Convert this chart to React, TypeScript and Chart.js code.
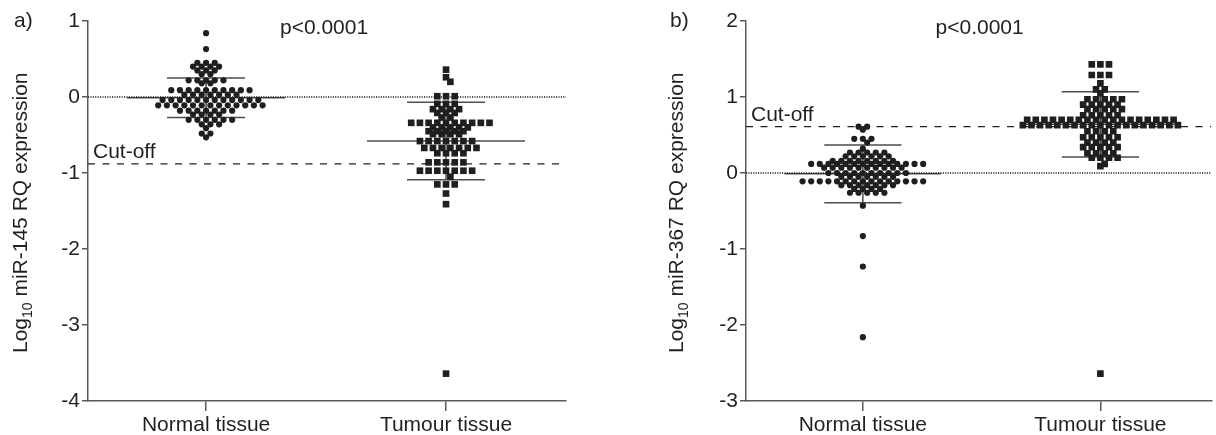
import React, { useEffect, useRef } from 'react';
import { Chart, registerables } from 'chart.js';

Chart.register(...registerables);

// ---------------- data ----------------
const categories = ['Normal tissue', 'Tumour tissue'];
const panelLetters = ['a)', 'b)'];
const pValueLabel = 'p<0.0001';
const cutoffLabel = 'Cut-off';
const yTitles = ['miR-145 RQ expression', 'miR-367 RQ expression'];
const yTicksA = [-4, -3, -2, -1, 0, 1];
const yTicksB = [-3, -2, -1, 0, 1, 2];

const normalA = [
  0.84,
  0.63,
  0.45, 0.45, 0.45,
  0.40, 0.40, 0.40, 0.40,
  0.35, 0.35, 0.35,
  0.30, 0.30,
  0.22, 0.22, 0.22, 0.22, 0.22,
  0.18, 0.18,
  0.09, 0.09, 0.09, 0.09, 0.09, 0.09, 0.09, 0.09, 0.09, 0.09,
  0.03, 0.03, 0.03, 0.03, 0.03, 0.03, 0.03,
  -0.04, -0.04, -0.04, -0.04, -0.04, -0.04, -0.04, -0.04, -0.04, -0.04, -0.04, -0.04,
  -0.11, -0.11, -0.11, -0.11, -0.11, -0.11, -0.11, -0.11, -0.11, -0.11, -0.11, -0.11, -0.11,
  -0.18, -0.18, -0.18, -0.18, -0.18, -0.18, -0.18,
  -0.23, -0.23, -0.23, -0.23,
  -0.30, -0.30, -0.30, -0.30, -0.30, -0.30,
  -0.36, -0.36, -0.36,
  -0.41,
  -0.48, -0.48,
  -0.53,
];

const tumourA = [
  0.36, 0.26, 0.20,
  0.01, 0.01, 0.01,
  -0.09, -0.09, -0.09,
  -0.16, -0.16, -0.16, -0.16,
  -0.21, -0.21, -0.21,
  -0.27, -0.27,
  -0.34, -0.34, -0.34, -0.34, -0.34, -0.34, -0.34, -0.34, -0.34, -0.34,
  -0.40, -0.40, -0.40, -0.40, -0.40,
  -0.45, -0.45, -0.45, -0.45, -0.45,
  -0.49, -0.49, -0.49, -0.49,
  -0.58, -0.58, -0.58, -0.58, -0.58, -0.58, -0.58,
  -0.67, -0.67, -0.67, -0.67, -0.67, -0.67, -0.67,
  -0.74, -0.74, -0.74, -0.74,
  -0.86, -0.86, -0.86, -0.86, -0.86,
  -0.97, -0.97, -0.97, -0.97, -0.97, -0.97, -0.97,
  -1.05,
  -1.15, -1.15, -1.15,
  -1.27,
  -1.41,
  -3.64,
];

const normalB = [
  0.61, 0.61,
  0.57,
  0.45, 0.45, 0.45,
  0.40,
  0.32,
  0.27, 0.27, 0.27, 0.27, 0.27,
  0.22, 0.22, 0.22, 0.22, 0.22, 0.22,
  0.16, 0.16, 0.16, 0.16, 0.16, 0.16, 0.16, 0.16,
  0.12, 0.12, 0.12, 0.12, 0.12, 0.12, 0.12, 0.12, 0.12, 0.12, 0.12, 0.12, 0.12, 0.12,
  0.07, 0.07, 0.07, 0.07, 0.07, 0.07, 0.07, 0.07, 0.07, 0.07,
  0.00, 0.00, 0.00, 0.00, 0.00, 0.00, 0.00, 0.00, 0.00, 0.00,
  -0.05, -0.05, -0.05, -0.05, -0.05, -0.05, -0.05,
  -0.11, -0.11, -0.11, -0.11, -0.11, -0.11, -0.11, -0.11, -0.11, -0.11, -0.11, -0.11, -0.11, -0.11, -0.11,
  -0.16, -0.16, -0.16, -0.16, -0.16, -0.16, -0.16,
  -0.21, -0.21, -0.21, -0.21,
  -0.26, -0.26, -0.26, -0.26, -0.26,
  -0.43,
  -0.83,
  -1.23,
  -2.16,
];

const tumourB = [
  1.43, 1.43, 1.43,
  1.29, 1.29, 1.29,
  1.18,
  1.10, 1.10,
  1.05,
  0.97, 0.97, 0.97, 0.97, 0.97,
  0.90, 0.90, 0.90, 0.90, 0.90,
  0.84, 0.84, 0.84, 0.84, 0.84,
  0.76, 0.76, 0.76, 0.76, 0.76,
  0.70, 0.70, 0.70, 0.70, 0.70, 0.70, 0.70, 0.70, 0.70, 0.70, 0.70, 0.70, 0.70, 0.70, 0.70, 0.70, 0.70, 0.70,
  0.63, 0.63, 0.63, 0.63, 0.63, 0.63, 0.63, 0.63, 0.63, 0.63, 0.63, 0.63, 0.63, 0.63, 0.63, 0.63, 0.63, 0.63, 0.63,
  0.55, 0.55, 0.55, 0.55,
  0.47, 0.47, 0.47, 0.47, 0.47,
  0.40, 0.40, 0.40, 0.40,
  0.34, 0.34, 0.34, 0.34, 0.34,
  0.26, 0.26, 0.26, 0.26,
  0.20, 0.20, 0.20, 0.20,
  0.12,
  0.09,
  -2.64,
];

const meansA = [-0.01, -0.58];
const sdsA = [0.26, 0.51];
const meansB = [-0.01, 0.64];
const sdsB = [0.38, 0.43];
const cutoffA = -0.88;
const cutoffB = 0.61;

// ---------------- style / layout ----------------
const FONT = "'Liberation Sans', Arial, Helvetica, sans-serif";
const TEXT = '#231f20';
const AXIS = '#58595b';
const BAR = '#4d4d4f';
const DOT = '#1f1f1f';
const CANVAS_W = 608;
const CANVAS_H = 435;
const DOT_SPACING_PX = 8.7;
const ROW_NEAR_PX = 7;
const MEAN_HALF_PX = 79;
const CAP_HALF_PX = 39;

type Panel = {
  letter: string;
  title: string;
  normal: number[];
  tumour: number[];
  means: number[];
  sds: number[];
  cutoff: number;
  yTicks: number[];
  axisWidth: number;
  rightPad: number;
  xMin: number;
  xMax: number;
  titleOffset: number;
  letterOffset: number;
};

const panels: Panel[] = [
  {
    letter: panelLetters[0], title: yTitles[0], normal: normalA, tumour: tumourA,
    means: meansA, sds: sdsA, cutoff: cutoffA, yTicks: yTicksA,
    axisWidth: 88, rightPad: 42, xMin: 0.508, xMax: 2.5, titleOffset: 61, letterOffset: 74,
  },
  {
    letter: panelLetters[1], title: yTitles[1], normal: normalB, tumour: tumourB,
    means: meansB, sds: sdsB, cutoff: cutoffB, yTicks: yTicksB,
    axisWidth: 138, rightPad: 0, xMin: 0.508, xMax: 2.467, titleOffset: 63, letterOffset: 76,
  },
];

// Row-wise swarm layout: identical values form a row spread around the category centre;
// rows lying close together are interleaved by half a column (hexagonal packing).
function swarm(values: number[], center: number, pxPerUnitX: number, pxPerUnitY: number) {
  const counts = new Map<number, number>();
  values.forEach((v) => counts.set(v, (counts.get(v) || 0) + 1));
  const rowVals = Array.from(counts.keys()).sort((a, b) => b - a);
  const base = new Map<number, number>();
  let prevVal = Infinity;
  let prevBase = 0;
  rowVals.forEach((v) => {
    const n = counts.get(v) as number;
    let b: number;
    if ((prevVal - v) * pxPerUnitY < ROW_NEAR_PX) b = prevBase === 0 ? 0.5 : 0;
    else b = n % 2 === 1 ? 0 : 0.5;
    base.set(v, b);
    prevVal = v;
    prevBase = b;
  });
  const seen = new Map<number, number>();
  return values.map((v) => {
    const i = seen.get(v) || 0;
    seen.set(v, i + 1);
    const b = base.get(v) as number;
    let col: number;
    if (b === 0) col = i === 0 ? 0 : (i % 2 === 1 ? (i + 1) / 2 : -i / 2);
    else col = i % 2 === 0 ? i / 2 + 0.5 : -((i - 1) / 2 + 0.5);
    return { x: center + (col * DOT_SPACING_PX) / pxPerUnitX, y: v };
  });
}

function seg(x1: number, y1: number, x2: number, y2: number, color: string, width: number, dash: number[] = []) {
  return {
    type: 'scatter' as const,
    data: [{ x: x1, y: y1 }, { x: x2, y: y2 }],
    showLine: true,
    borderColor: color,
    borderWidth: width,
    borderDash: dash,
    pointRadius: 0,
    pointHoverRadius: 0,
    order: 2,
  };
}

function buildConfig(p: Panel): any {
  const plotH = CANVAS_H - 21 - 34;
  const pxPerUnitX = (CANVAS_W - p.axisWidth - p.rightPad) / (p.xMax - p.xMin);
  const pxPerUnitY = plotH / (p.yTicks[p.yTicks.length - 1] - p.yTicks[0]);
  const meanHalf = MEAN_HALF_PX / pxPerUnitX;
  const capHalf = CAP_HALF_PX / pxPerUnitX;
  const datasets: any[] = [];
  datasets.push(seg(p.xMin, 0, p.xMax, 0, '#151515', 1.3, [1.1, 1.3]));
  datasets.push(seg(p.xMin, p.cutoff, p.xMax, p.cutoff, TEXT, 1.4, [7, 7.5]));
  p.means.forEach((m, i) => {
    const c = i + 1;
    const s = p.sds[i];
    datasets.push(seg(c - meanHalf, m, c + meanHalf, m, BAR, 1.5));
    datasets.push(seg(c - capHalf, m + s, c + capHalf, m + s, BAR, 1.5));
    datasets.push(seg(c - capHalf, m - s, c + capHalf, m - s, BAR, 1.5));
    datasets.push(seg(c, m - s, c, m + s, BAR, 1.5));
  });
  datasets.push({
    type: 'scatter',
    data: swarm(p.normal, 1, pxPerUnitX, pxPerUnitY),
    pointStyle: 'circle',
    pointRadius: 3.1,
    pointHoverRadius: 3.1,
    backgroundColor: DOT,
    borderWidth: 0,
    order: 0,
  });
  datasets.push({
    type: 'scatter',
    data: swarm(p.tumour, 2, pxPerUnitX, pxPerUnitY),
    pointStyle: 'rect',
    pointRadius: 4.7,
    pointHoverRadius: 4.7,
    backgroundColor: DOT,
    borderWidth: 0,
    order: 0,
  });

  const textPlugin = {
    id: 'panelText',
    afterDraw(chart: any) {
      const ctx = chart.ctx as CanvasRenderingContext2D;
      const { left } = chart.chartArea;
      const xs = chart.scales.x;
      const ys = chart.scales.y;
      ctx.save();
      ctx.fillStyle = TEXT;
      ctx.textBaseline = 'alphabetic';
      ctx.font = `21px ${FONT}`;
      ctx.textAlign = 'left';
      ctx.fillText(p.letter, left - p.letterOffset, 27);
      ctx.textAlign = 'center';
      ctx.fillText(pValueLabel, xs.getPixelForValue(1.5) - 2, 34);
      ctx.textAlign = 'left';
      ctx.fillText(cutoffLabel, left + 5, ys.getPixelForValue(p.cutoff) - 6);
      // rotated y-axis title with subscript
      ctx.translate(left - p.titleOffset, 353);
      ctx.rotate(-Math.PI / 2);
      let x = 0;
      ctx.font = `21px ${FONT}`;
      ctx.fillText('Log', x, 0);
      x += ctx.measureText('Log').width;
      ctx.font = `14px ${FONT}`;
      ctx.fillText('10', x, 5);
      x += ctx.measureText('10').width;
      ctx.font = `21px ${FONT}`;
      ctx.fillText(' ' + p.title, x, 0);
      ctx.restore();
    },
  };

  const tickFont = { family: FONT, size: 21 };

  return {
    type: 'scatter',
    data: { datasets },
    plugins: [textPlugin],
    options: {
      responsive: false,
      animation: false,
      events: [],
      layout: { padding: { left: 0, top: 21, right: p.rightPad, bottom: 0 } },
      plugins: { legend: { display: false }, tooltip: { enabled: false }, title: { display: false } },
      scales: {
        x: {
          type: 'linear',
          min: p.xMin,
          max: p.xMax,
          afterBuildTicks: (s: any) => { s.ticks = categories.map((_, i) => ({ value: i + 1 })); },
          afterFit: (s: any) => { s.height = 34; },
          ticks: {
            callback: (_v: any, i: number) => categories[i],
            font: tickFont,
            color: TEXT,
            padding: 2,
            autoSkip: false,
            maxRotation: 0,
          },
          grid: { display: true, drawOnChartArea: false, drawTicks: true, tickLength: 10, color: AXIS, lineWidth: 1.5 },
          border: { display: true, color: AXIS, width: 1.5 },
        },
        y: {
          type: 'linear',
          min: p.yTicks[0],
          max: p.yTicks[p.yTicks.length - 1],
          afterBuildTicks: (s: any) => { s.ticks = p.yTicks.map((v) => ({ value: v })); },
          afterFit: (s: any) => { s.width = p.axisWidth; },
          ticks: {
            callback: (v: any) => String(v),
            font: tickFont,
            color: TEXT,
            padding: 2,
          },
          grid: { display: true, drawOnChartArea: false, drawTicks: true, tickLength: 6, color: AXIS, lineWidth: 1.5 },
          border: { display: true, color: AXIS, width: 1.5 },
        },
      },
    },
  };
}

function PanelChart({ panel, left }: { panel: Panel; left: number }) {
  const ref = useRef<HTMLCanvasElement | null>(null);
  useEffect(() => {
    if (!ref.current) return;
    const chart = new Chart(ref.current, buildConfig(panel));
    return () => chart.destroy();
  }, [panel]);
  return (
    <canvas
      ref={ref}
      width={CANVAS_W}
      height={CANVAS_H}
      style={{ position: 'absolute', left, top: 0, width: CANVAS_W, height: CANVAS_H, display: 'block' }}
    />
  );
}

export default function App() {
  return (
    <div style={{ position: 'fixed', left: 0, top: 0, width: 1216, height: 435, background: '#ffffff', overflow: 'hidden' }}>
      <PanelChart panel={panels[0]} left={0} />
      <PanelChart panel={panels[1]} left={CANVAS_W} />
    </div>
  );
}
